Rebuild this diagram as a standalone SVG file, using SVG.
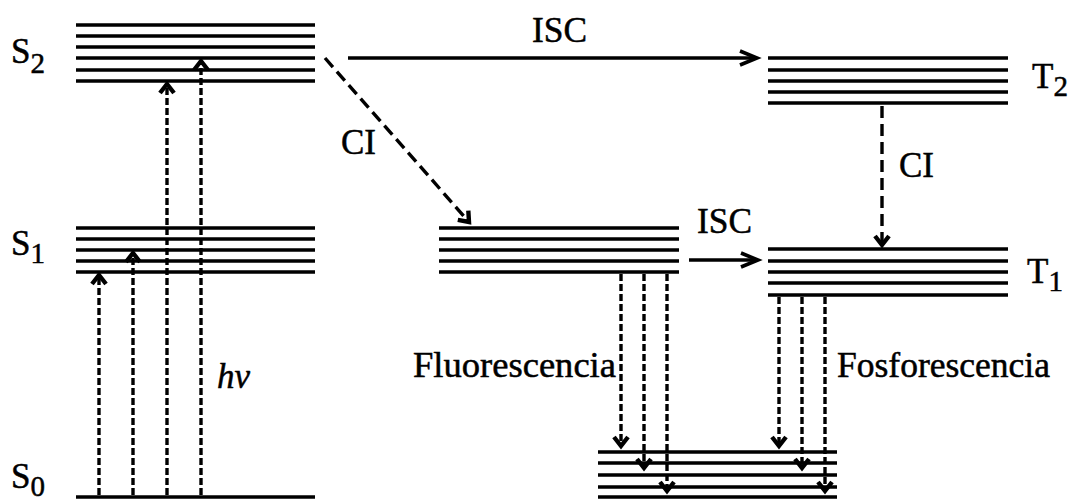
<svg xmlns="http://www.w3.org/2000/svg" width="1068" height="500" viewBox="0 0 1068 500">
<style>
.lv{stroke:#000;stroke-width:3.6;fill:none}
text{font-family:'Liberation Serif','Times New Roman',serif;font-size:35px;fill:#000;stroke:#000;stroke-width:0.5}
.sub{font-size:29px}
.ex{stroke:#000;stroke-width:3.4;stroke-dasharray:7,3;fill:none}
.ci{stroke:#000;stroke-width:3.4;stroke-dasharray:12,6;fill:none}
.isc{stroke:#000;stroke-width:3.6;fill:none}
</style>
<defs>
<marker id="ah" markerUnits="userSpaceOnUse" markerWidth="30" markerHeight="30" viewBox="-15 -15 30 30" refX="0" refY="0" orient="auto">
<path d="M-9,-7 L0,0 L-9,7" fill="none" stroke="#000" stroke-width="4.4" stroke-linejoin="miter" stroke-miterlimit="3"/>
</marker>
<marker id="oh" markerUnits="userSpaceOnUse" markerWidth="30" markerHeight="30" viewBox="-25 -15 30 30" refX="0" refY="0" orient="auto">
<path d="M-17,-7 L0,0 L-17,7" fill="none" stroke="#000" stroke-width="3.6"/>
</marker>
</defs>
<rect width="1068" height="500" fill="#fff"/>

<g id="S2">
<path class="lv" d="M76,25H315M76,36H315M76,47H315M76,58H315M76,70H315M76,81H315"/>
<text x="11" y="63">S<tspan class="sub" dy="10">2</tspan></text>
</g>
<g id="S1">
<path class="lv" d="M76,228H315M76,239H315M76,250H315M76,261H315M76,272H315"/>
<text x="11" y="255">S<tspan class="sub" dy="8">1</tspan></text>
</g>
<g id="S0">
<path class="lv" d="M76,497H315" stroke-width="4"/>
<text x="11" y="488">S<tspan class="sub" dy="8">0</tspan></text>
</g>
<g id="S1b">
<path class="lv" d="M439,228H679M439,239H679M439,250H679M439,261H679M439,272H679"/>
</g>
<g id="T2">
<path class="lv" d="M768,58H1008M768,70H1008M768,81H1008M768,92H1008M768,103H1008"/>
<text x="1032" y="88">T<tspan class="sub" dy="8">2</tspan></text>
</g>
<g id="T1">
<path class="lv" d="M768,249H1008M768,261H1008M768,272H1008M768,283H1008M768,295H1008"/>
<text x="1027" y="283">T<tspan class="sub" dy="8">1</tspan></text>
</g>
<g id="S0b">
<path class="lv" d="M598,452H837M598,463H837M598,475H837M598,487H837M598,497H837"/>
</g>

<g id="connectors">
<path class="ex" d="M99,495V275" marker-end="url(#ah)"/>
<path class="ex" d="M133,495V253" marker-end="url(#ah)"/>
<path class="ex" d="M167,495V84" marker-end="url(#ah)"/>
<path class="ex" d="M201,495V61" marker-end="url(#ah)"/>
<path class="ci" d="M325,58L469,222" marker-end="url(#ah)"/>
<path class="ci" d="M882,106V245" marker-end="url(#ah)"/>
<path class="isc" d="M348,58H757" marker-end="url(#oh)"/>
<path class="isc" d="M689,260H758" marker-end="url(#oh)"/>
<path class="ex" d="M621,274V446" marker-end="url(#ah)"/>
<path class="ex" d="M644,274V468" marker-end="url(#ah)"/>
<path class="ex" d="M667,274V491" marker-end="url(#ah)"/>
<path class="ex" d="M779,297V446" marker-end="url(#ah)"/>
<path class="ex" d="M802,297V468" marker-end="url(#ah)"/>
<path class="ex" d="M825,297V491" marker-end="url(#ah)"/>
</g>

<g id="labels">
<text x="532" y="42" textLength="55" lengthAdjust="spacingAndGlyphs">ISC</text>
<text x="697" y="233" textLength="55" lengthAdjust="spacingAndGlyphs">ISC</text>
<text x="341" y="154">CI</text>
<text x="899" y="177">CI</text>
<text x="217" y="388" font-style="italic" font-size="33">hv</text>
<text x="413" y="377" textLength="203" lengthAdjust="spacingAndGlyphs">Fluorescencia</text>
<text x="837" y="377" textLength="213" lengthAdjust="spacingAndGlyphs">Fosforescencia</text>
</g>
</svg>
